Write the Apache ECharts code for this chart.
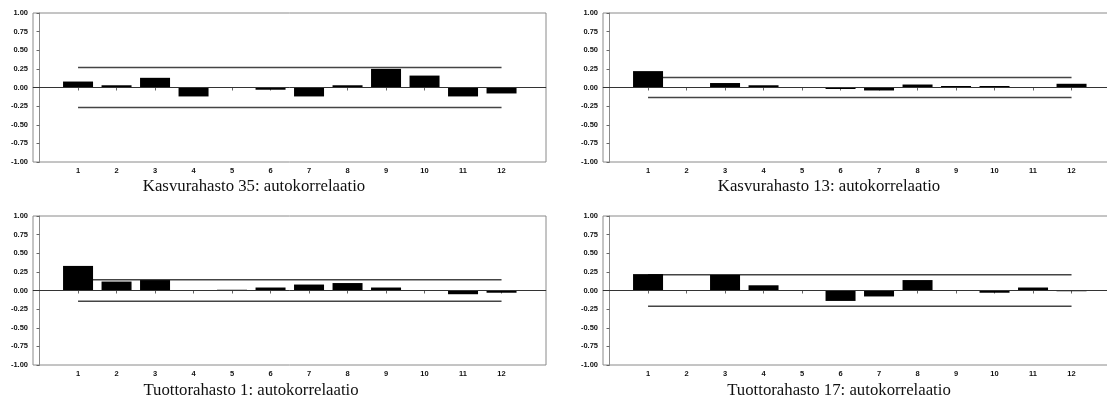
<!DOCTYPE html>
<html>
<head>
<meta charset="utf-8">
<script src="https://cdn.jsdelivr.net/npm/echarts@6/dist/echarts.min.js"></script>
<style>
html,body{margin:0;padding:0;background:#fff;}
#c{width:1107px;height:405px;}
</style>
</head>
<body>
<div id="c"></div>
<script>
const lags = [1,2,3,4,5,6,7,8,9,10,11,12];
const titles = [
  'Kasvurahasto 35: autokorrelaatio',
  'Kasvurahasto 13: autokorrelaatio',
  'Tuottorahasto 1: autokorrelaatio',
  'Tuottorahasto 17: autokorrelaatio'
];
const acfKasvu35 = [0.08, 0.03, 0.13, -0.12, 0.00, -0.03, -0.12, 0.03, 0.25, 0.16, -0.12, -0.08];
const acfKasvu13 = [0.22, 0.00, 0.06, 0.03, 0.00, -0.02, -0.04, 0.04, 0.02, 0.02, 0.00, 0.05];
const acfTuotto1 = [0.33, 0.12, 0.14, 0.00, 0.01, 0.04, 0.08, 0.10, 0.04, 0.00, -0.05, -0.03];
const acfTuotto17 = [0.22, 0.00, 0.21, 0.07, 0.00, -0.14, -0.08, 0.14, 0.00, -0.03, 0.04, -0.01];
const confBounds = [0.27, 0.135, 0.145, 0.21];
const yMin = -1, yMax = 1, yStep = 0.25;

const panels = [acfKasvu35, acfKasvu13, acfTuotto1, acfTuotto17];
const gridPos = [
  {left: 33, top: 13, width: 513, height: 149},
  {left: 603, top: 13, width: 513, height: 149},
  {left: 33, top: 216, width: 513, height: 149},
  {left: 603, top: 216, width: 513, height: 149}
];
const titlePos = [[254, 187], [829, 187], [251, 391], [839, 391]];
const xMinV = -0.17, xMaxV = 13.155;

const chart = echarts.init(document.getElementById('c'), null, {renderer: 'canvas'});
const grids = [], xAxes = [], yAxes = [], series = [], graphics = [];
panels.forEach((vals, i) => {
  grids.push(Object.assign({show: true, borderColor: '#8a8a8a', borderWidth: 1, backgroundColor: 'transparent',
    containLabel: false, outerBoundsMode: 'none'}, gridPos[i]));
  xAxes.push({
    type: 'value', gridIndex: i, min: xMinV, max: xMaxV,
    axisLine: {show: true, lineStyle: {color: '#8a8a8a', width: 1}},
    axisTick: {show: true, customValues: lags, length: 3, lineStyle: {color: '#666'}},
    axisLabel: {show: true, customValues: lags, fontSize: 7.5, fontWeight: 'bold', color: '#111',
      fontFamily: 'Liberation Sans, Arial, sans-serif', margin: 5},
    splitLine: {show: false}
  });
  yAxes.push({
    type: 'value', gridIndex: i, min: yMin, max: yMax, interval: yStep,
    axisLine: {show: true, lineStyle: {color: '#8a8a8a', width: 1}},
    axisTick: {show: true, length: 3, lineStyle: {color: '#666'}},
    axisLabel: {fontSize: 7.5, fontWeight: 'bold', color: '#111', margin: 5,
      fontFamily: 'Liberation Sans, Arial, sans-serif',
      formatter: v => v.toFixed(2)},
    splitLine: {show: false}
  });
  series.push({
    type: 'bar', xAxisIndex: i, yAxisIndex: i,
    data: lags.map((l, k) => [l, vals[k]]),
    barWidth: 30,
    itemStyle: {color: '#000'},
    silent: true,
    markLine: {
      silent: true, symbol: ['none', 'none'], label: {show: false},
      lineStyle: {color: '#333', width: 1, type: 'solid'},
      data: [{yAxis: 0}]
    },
    z: 3
  });
  const c = confBounds[i];
  series.push({
    type: 'line', xAxisIndex: i, yAxisIndex: i, symbol: 'none', silent: true,
    data: [[lags[0], c], [lags[lags.length - 1], c]],
    lineStyle: {color: '#444', width: 1.5}, z: 2
  });
  series.push({
    type: 'line', xAxisIndex: i, yAxisIndex: i, symbol: 'none', silent: true,
    data: [[lags[0], -c], [lags[lags.length - 1], -c]],
    lineStyle: {color: '#444', width: 1.5}, z: 2
  });
  graphics.push({
    type: 'text', x: titlePos[i][0], y: titlePos[i][1],
    style: {text: titles[i], fill: '#111', font: '16.75px "Liberation Serif", "Times New Roman", serif',
      align: 'center', verticalAlign: 'middle'}
  });
});

chart.setOption({
  animation: false,
  backgroundColor: '#fff',
  grid: grids,
  xAxis: xAxes,
  yAxis: yAxes,
  series: series,
  graphic: graphics
});
</script>
</body>
</html>
